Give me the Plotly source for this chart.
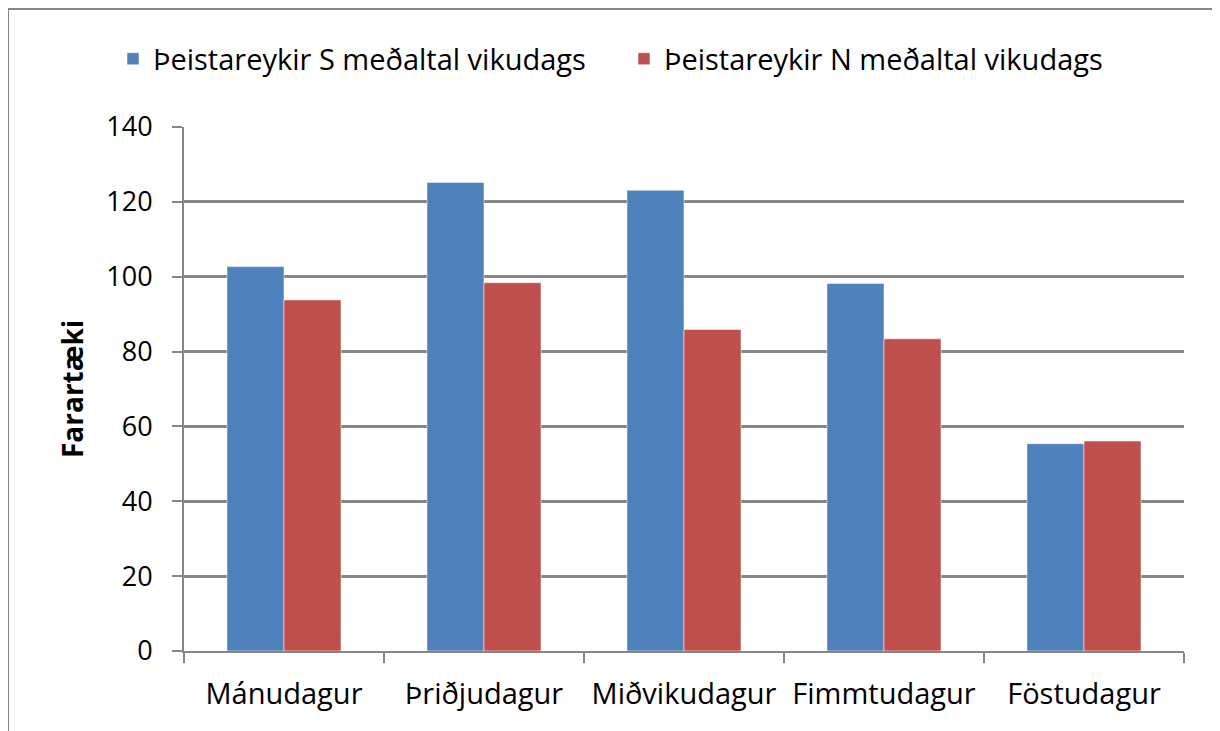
import plotly.graph_objects as go

categories = ["Mánudagur", "Þriðjudagur", "Miðvikudagur", "Fimmtudagur", "Föstudagur"]
series_s_name = "Þeistareykir S meðaltal vikudags"
series_n_name = "Þeistareykir N meðaltal vikudags"
series_s = [102.7, 125.2, 123.1, 98.2, 55.4]
series_n = [93.8, 98.4, 85.9, 83.4, 56.1]
y_ticks = [0, 20, 40, 60, 80, 100, 120, 140]
y_title = "Farartæki"

FONT = "Open Sans"
GRID = "#868686"

fig = go.Figure()
fig.add_trace(go.Bar(x=categories, y=series_s, name=series_s_name,
                     marker=dict(color="#4F81BD", line=dict(color="rgba(255,255,255,0.5)", width=1))))
fig.add_trace(go.Bar(x=categories, y=series_n, name=series_n_name,
                     marker=dict(color="#C0504D", line=dict(color="rgba(255,255,255,0.5)", width=1))))

fig.update_layout(
    width=1212, height=723,
    margin=dict(l=176, r=36, t=119, b=80, autoexpand=False),
    paper_bgcolor="white", plot_bgcolor="white",
    barmode="group", bargap=0.43, bargroupgap=0,
    font=dict(family=FONT, size=28, color="black"),
    legend=dict(orientation="h", x=-0.071, y=1.13, xanchor="left", yanchor="middle",
                font=dict(family=FONT, size=29, color="black"),
                entrywidth=466, entrywidthmode="pixels", itemwidth=30,
                bgcolor="rgba(0,0,0,0)"),
    showlegend=True,
)
fig.update_xaxes(
    type="category", showline=True, linecolor=GRID, linewidth=2,
    ticks="outside", tickson="boundaries", ticklen=10, tickcolor=GRID, tickwidth=2,
    showgrid=False, tickfont=dict(family=FONT, size=29, color="black"),
    ticklabelstandoff=16,
)
fig.update_yaxes(
    range=[0, 140], tickvals=y_ticks, showline=True, linecolor=GRID, linewidth=2,
    ticks="outside", ticklen=10, tickcolor=GRID, tickwidth=2,
    showgrid=True, gridcolor=GRID, gridwidth=2.5,
    tickfont=dict(family=FONT, size=27, color="black"), zeroline=False,
    ticklabelstandoff=14,
)
fig.add_annotation(text="<b>" + y_title + "</b>", textangle=-90, xref="paper", yref="paper",
                   x=-0.112, y=0.5, xanchor="center", yanchor="middle", showarrow=False,
                   font=dict(family=FONT, size=28, color="black"))
# outer chart frame
fig.add_shape(type="rect", xref="paper", yref="paper", x0=-0.176, x1=1.035, y0=-0.3, y1=1.2252,
              line=dict(color=GRID, width=2), fillcolor="rgba(0,0,0,0)", layer="below")

fig.write_html("out.html")
